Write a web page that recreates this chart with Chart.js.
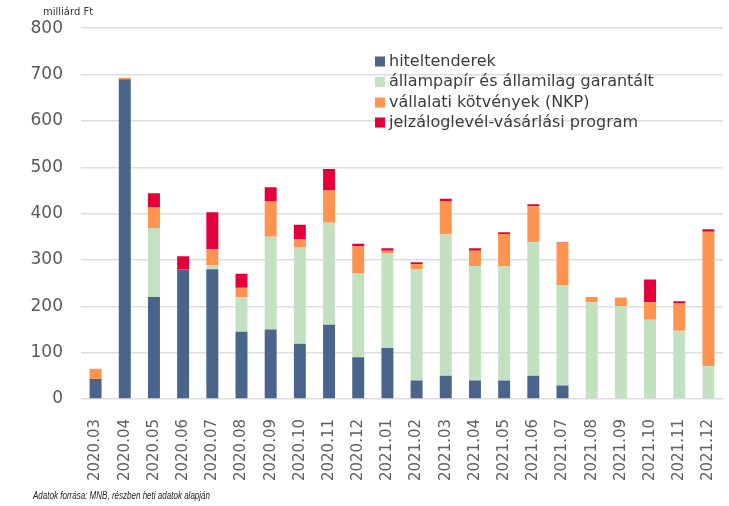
<!DOCTYPE html>
<html>
<head>
<meta charset="utf-8">
<script src="https://cdn.jsdelivr.net/npm/chart.js@4"></script>
<style>
  html, body { margin: 0; padding: 0; background: #fff; }
  #wrap { position: relative; width: 729px; height: 506px; }
</style>
</head>
<body>
<div id="wrap"><canvas id="c" width="729" height="506"></canvas></div>
<script>
const months = ['2020.03','2020.04','2020.05','2020.06','2020.07','2020.08','2020.09','2020.10','2020.11','2020.12',
  '2021.01','2021.02','2021.03','2021.04','2021.05','2021.06','2021.07','2021.08','2021.09','2021.10','2021.11','2021.12'];

const hiteltenderek = [43, 690, 220, 280, 280, 145, 150, 119, 160, 90, 110, 40, 50, 40, 40, 50, 29, 0, 0, 0, 0, 0];
const allampapir    = [0, 0, 149, 0, 9, 75, 200, 208, 220, 181, 205, 240, 305, 247, 246, 288, 217, 208, 200, 171, 147, 71];
const nkp           = [22, 3, 45, 0, 34, 20, 76, 17, 70, 58, 5, 11, 72, 33, 70, 78, 91, 10, 19, 38, 60, 290];
const jelzalog      = [0, 0, 30, 28, 80, 30, 31, 32, 46, 6, 5, 4, 5, 5, 4, 4, 1, 1, 0, 49, 4, 5];

const yTicks = [0, 100, 200, 300, 400, 500, 600, 700, 800];

const seriesNames = ['hiteltenderek', 'állampapír és államilag garantált', 'vállalati kötvények (NKP)', 'jelzáloglevél-vásárlási program'];
const colors = ['#4a648c', '#c3e0c1', '#fe9450', '#e3003b'];

const FONT = '"DejaVu Sans", sans-serif';

const legendPlugin = {
  id: 'customLegend',
  afterDraw: (chart) => {
    const { ctx } = chart;
    ctx.save();
    const rows = [61.5, 82, 102.5, 122.5];
    chart.data.datasets.forEach((ds, i) => {
      ctx.fillStyle = ds.backgroundColor;
      ctx.fillRect(375, rows[i] - 5, 10, 10);
      ctx.fillStyle = '#3c3c3c';
      ctx.font = '16px ' + FONT;
      ctx.textBaseline = 'middle';
      ctx.textAlign = 'left';
      ctx.fillText(ds.label, 389, rows[i]);
    });

    // unit label
    ctx.fillStyle = '#333';
    ctx.font = '10px ' + FONT;
    ctx.textBaseline = 'middle';
    ctx.fillText('milliárd Ft', 43, 12);

    // source note
    const src = 'Adatok forrása: MNB, részben heti adatok alapján';
    ctx.font = 'italic 10px "Liberation Sans", sans-serif';
    const w = ctx.measureText(src).width;
    ctx.translate(33, 496);
    ctx.scale(177 / w, 1);
    ctx.fillStyle = '#222';
    ctx.fillText(src, 0, 0);
    ctx.restore();
  }
};

const data = {
  labels: months,
  datasets: [hiteltenderek, allampapir, nkp, jelzalog].map((vals, i) => ({
    label: seriesNames[i],
    data: vals,
    backgroundColor: colors[i],
    borderWidth: 0,
    barPercentage: 0.41,
    categoryPercentage: 1
  }))
};

new Chart(document.getElementById('c'), {
  type: 'bar',
  data: data,
  options: {
    responsive: false,
    animation: false,
    layout: { padding: { top: 24, right: 6, bottom: 0, left: 0 } },
    plugins: {
      legend: { display: false },
      tooltip: { enabled: false },
      title: { display: false }
    },
    scales: {
      x: {
        stacked: true,
        grid: { display: false },
        border: { display: false },
        ticks: {
          minRotation: 90,
          maxRotation: 90,
          padding: 12,
          color: '#606060',
          font: { family: FONT, size: 15 }
        },
        afterFit: (s) => {
          s.height = 107;
          s.paddingLeft = 0;
          s.paddingRight = 0;
        }
      },
      y: {
        stacked: true,
        min: 0,
        max: 800,
        afterBuildTicks: (s) => { s.ticks = yTicks.map(v => ({ value: v })); },
        grid: { color: '#dedede', lineWidth: 1.5, drawTicks: false },
        border: { display: false },
        ticks: {
          padding: 18,
          color: '#595959',
          font: { family: FONT, size: 17 }
        },
        afterFit: (s) => { s.width = 81; }
      }
    }
  },
  plugins: [legendPlugin]
});
</script>
</body>
</html>
